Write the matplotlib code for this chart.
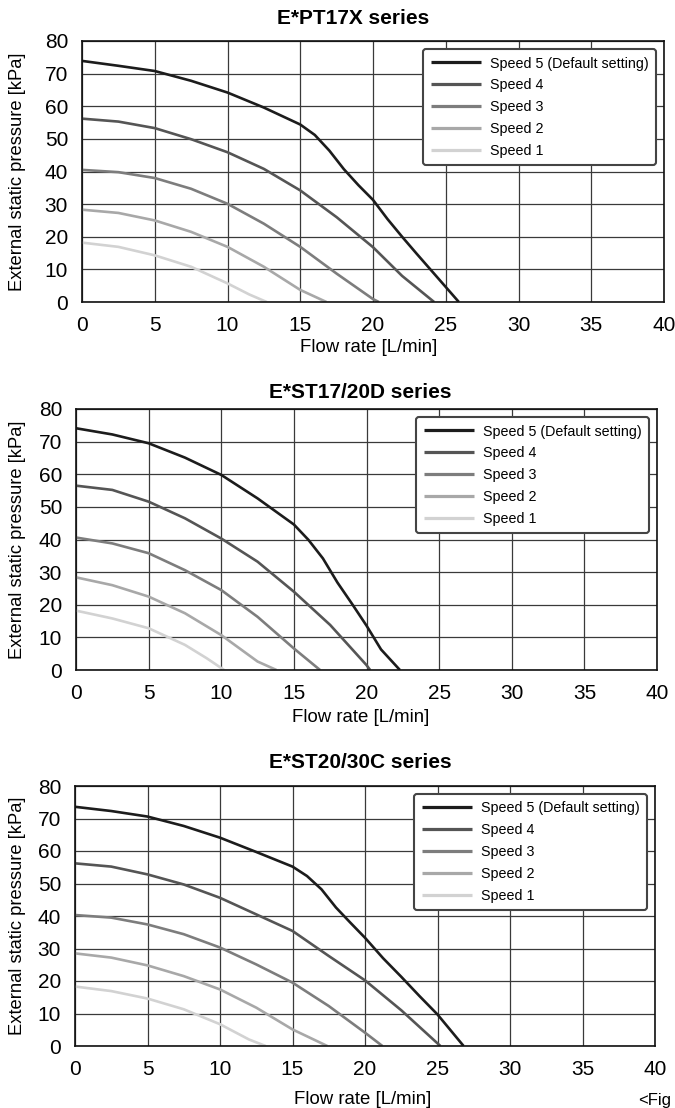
import matplotlib
matplotlib.use("Agg")
import matplotlib.pyplot as plt

plt.rcParams['font.family'] = ['Liberation Sans', 'DejaVu Sans']

titles = ["E*PT17X series", "E*ST17/20D series", "E*ST20/30C series"]
labels = ["Speed 5 (Default setting)", "Speed 4", "Speed 3", "Speed 2", "Speed 1"]
colors = ["#1c1c1c", "#555555", "#7d7d7d", "#a8a8a8", "#d2d2d2"]

# E*PT17X series
pt17x_x5 = [0, 2.5, 5, 7.5, 10, 12.5, 15, 16, 17, 18, 19, 20, 21, 22, 23, 24, 25, 25.9]
pt17x_y5 = [73.9, 72.4, 70.8, 67.8, 64.2, 59.6, 54.4, 51.2, 46.4, 40.7, 35.8, 31.3, 25.4, 20, 14.8, 9.7, 4.6, 0]
pt17x_x4 = [0, 2.5, 5, 7.5, 10, 12.5, 15, 17.5, 20, 22, 24.2]
pt17x_y4 = [56.2, 55.3, 53.3, 49.9, 45.9, 40.8, 34.2, 26, 16.8, 8, 0]
pt17x_x3 = [0, 2.5, 5, 7.5, 10, 12.5, 15, 17.5, 20, 20.4]
pt17x_y3 = [40.5, 39.8, 38, 34.7, 30.1, 24, 16.9, 8.7, 0.9, 0]
pt17x_x2 = [0, 2.5, 5, 7.5, 10, 12.5, 15, 16.8]
pt17x_y2 = [28.3, 27.3, 25, 21.5, 16.9, 10.8, 3.7, 0]
pt17x_x1 = [0, 2.5, 5, 7.5, 10, 11.5, 12.7]
pt17x_y1 = [18.2, 16.9, 14.3, 10.8, 5.7, 2.3, 0]

# E*ST17/20D series
st1720_x5 = [0, 2.5, 5, 7.5, 10, 12.5, 15, 16, 17, 18, 19, 20, 21, 22.3]
st1720_y5 = [74.1, 72.2, 69.5, 65.1, 59.8, 52.6, 44.6, 39.9, 34.2, 26.8, 20.3, 13.6, 6.3, 0]
st1720_x4 = [0, 2.5, 5, 7.5, 10, 12.5, 15, 17.5, 20, 20.25]
st1720_y4 = [56.5, 55.2, 51.6, 46.5, 40.3, 33.2, 24, 13.8, 1.5, 0]
st1720_x3 = [0, 2.5, 5, 7.5, 10, 12.5, 15, 16.8]
st1720_y3 = [40.6, 38.8, 35.8, 30.6, 24.5, 16.3, 6.6, 0]
st1720_x2 = [0, 2.5, 5, 7.5, 10, 12.5, 13.8]
st1720_y2 = [28.4, 26, 22.5, 17.4, 10.7, 2.6, 0]
st1720_x1 = [0, 2.5, 5, 7.5, 9, 10.2]
st1720_y1 = [18.2, 15.8, 12.8, 7.7, 3.6, 0]

# E*ST20/30C series
st2030_x5 = [0, 2.5, 5, 7.5, 10, 12.5, 15, 16, 17, 18, 19, 20, 21.25, 22.5, 23.75, 25, 26.8]
st2030_y5 = [73.6, 72.3, 70.6, 67.7, 64.1, 59.7, 55.2, 52.3, 48.2, 42.6, 37.9, 33.3, 27.0, 21.3, 15.4, 9.7, 0]
st2030_x4 = [0, 2.5, 5, 7.5, 10, 12.5, 15, 17.5, 20, 22.5, 25.2]
st2030_y4 = [56.2, 55.2, 52.8, 49.7, 45.6, 40.5, 35.4, 27.7, 20.2, 11, 0]
st2030_x3 = [0, 2.5, 5, 7.5, 10, 12.5, 15, 17.5, 20, 21.2]
st2030_y3 = [40.3, 39.5, 37.4, 34.4, 30.3, 25.1, 19.5, 12.3, 4.1, 0]
st2030_x2 = [0, 2.5, 5, 7.5, 10, 12.5, 15, 17.4]
st2030_y2 = [28.5, 27.2, 24.8, 21.5, 17.4, 11.8, 5.1, 0]
st2030_x1 = [0, 2.5, 5, 7.5, 10, 12, 13.15]
st2030_y1 = [18.3, 16.9, 14.6, 11.3, 6.7, 2, 0]

panels = [
    [(pt17x_x5, pt17x_y5), (pt17x_x4, pt17x_y4), (pt17x_x3, pt17x_y3), (pt17x_x2, pt17x_y2), (pt17x_x1, pt17x_y1)],
    [(st1720_x5, st1720_y5), (st1720_x4, st1720_y4), (st1720_x3, st1720_y3), (st1720_x2, st1720_y2), (st1720_x1, st1720_y1)],
    [(st2030_x5, st2030_y5), (st2030_x4, st2030_y4), (st2030_x3, st2030_y3), (st2030_x2, st2030_y2), (st2030_x1, st2030_y1)],
]

W, H = 675, 1108
fig = plt.figure(figsize=(W / 100, H / 100), dpi=100)

# axes boxes in pixels: left, right, top, bottom
boxes = [(82, 664, 41, 302), (76, 657, 409, 670), (75, 655, 786, 1046)]
xlabel_pos = [(369, 348), (361, 718), (363, 1100)]
title_pos = [(353, 18), (360, 393), (360, 762)]

for i, (l, r, t, b) in enumerate(boxes):
    ax = fig.add_axes([l / W, 1 - b / H, (r - l) / W, (b - t) / H])
    for (xs, ys), lab, c in zip(panels[i], labels, colors):
        ax.plot(xs, ys, color=c, lw=1.9, label=lab, solid_capstyle="butt",
                solid_joinstyle="round")
    ax.set_xlim(0, 40)
    ax.set_ylim(0, 80)
    ax.set_xticks(range(0, 41, 5))
    ax.set_yticks(range(0, 81, 10))
    ax.grid(True, color="#3a3a3a", lw=0.9)
    ax.set_axisbelow(True)
    ax.tick_params(length=0, labelsize=15)
    ax.tick_params(axis="x", pad=10)
    ax.tick_params(axis="y", pad=10)
    for s in ax.spines.values():
        s.set_color("#111111")
        s.set_linewidth(1.2)
    ax.set_ylabel("External static pressure [kPa]", fontsize=13.2)
    ax.yaxis.set_label_coords((26 - l) / (r - l), 0.5)
    fig.text(xlabel_pos[i][0] / W, 1 - xlabel_pos[i][1] / H, "Flow rate [L/min]",
             ha="center", va="center", fontsize=13.4)
    fig.text(title_pos[i][0] / W, 1 - title_pos[i][1] / H, titles[i],
             ha="center", va="center", fontsize=15, fontweight="bold")
    leg = ax.legend(loc="upper right", bbox_to_anchor=(0.986, 0.968), borderaxespad=0,
                    fontsize=10.3, handlelength=3.5, handletextpad=0.65,
                    labelspacing=0.55, fancybox=True, framealpha=1,
                    edgecolor="#444444", borderpad=0.5)
    leg.get_frame().set_linewidth(1.5)
    for ln in leg.get_lines():
        ln.set_linewidth(2.3)

fig.text(638 / W, 1 - 1100 / H, "<Fig", ha="left", va="center", fontsize=12)

fig.savefig("out.png", dpi=100)
